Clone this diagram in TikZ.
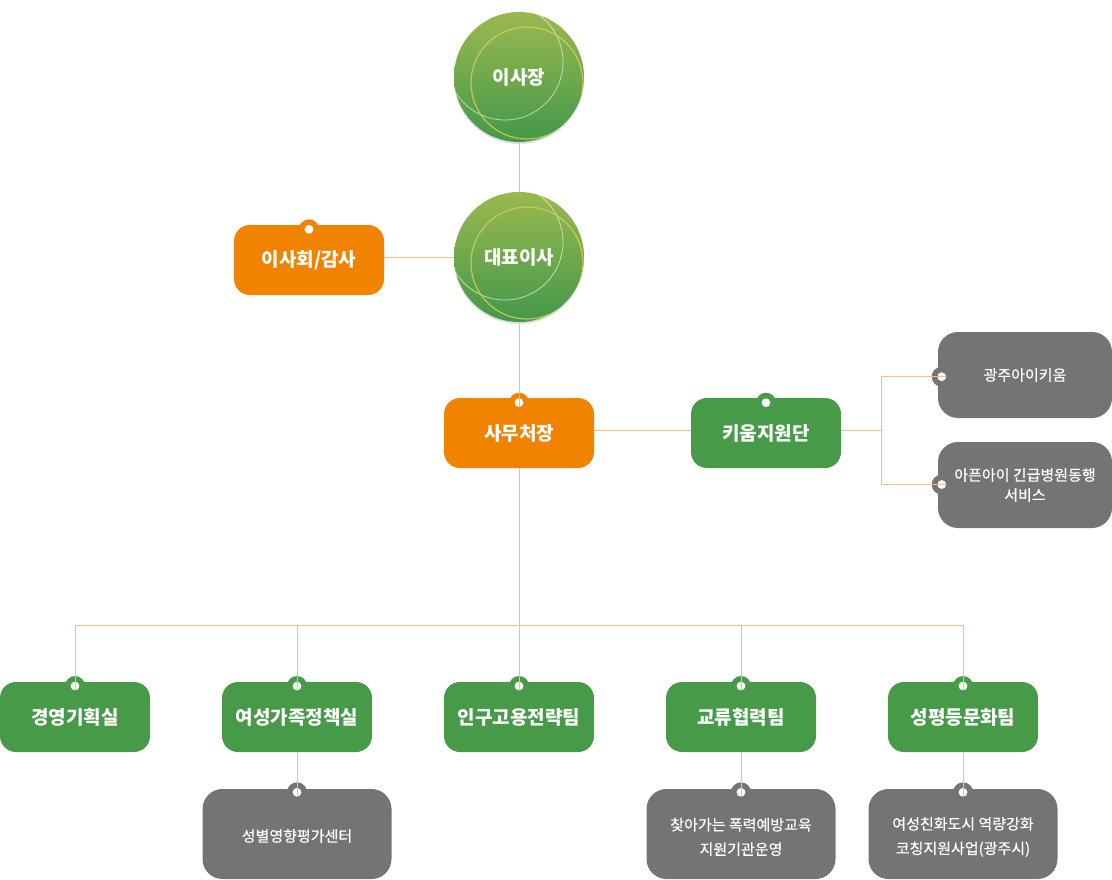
\documentclass[tikz,border=0pt]{standalone}
\usepackage{fontspec}
\newfontfamily\kr{Noto Sans CJK KR}
\newfontfamily\krm{Noto Sans CJK KR}[FakeBold=0.5]
\usetikzlibrary{shadows}
\definecolor{corange}{HTML}{F28300}
\definecolor{cgreen}{HTML}{469A48}
\definecolor{cgray}{HTML}{747474}
\definecolor{cline}{HTML}{F8BE7C}
\definecolor{ctop}{HTML}{9AB94F}
\definecolor{cbot}{HTML}{43984A}
\definecolor{cyel}{HTML}{D9CB5E}
\begin{document}
\begin{tikzpicture}[x=1pt,y=-1pt,
  box/.style={rectangle, rounded corners=16pt, minimum width=150pt, minimum height=70pt, inner sep=0pt, text=white, font=\kr\bfseries\fontsize{19}{22}\selectfont},
  obox/.style={box, fill=corange},
  gbox/.style={box, fill=cgreen},
  sbox/.style={rectangle, rounded corners=20pt, fill=cgray, text=white, inner sep=0pt, minimum width=189pt, minimum height=90pt, align=center, font=\krm\fontsize{15}{24.5}\selectfont},
  rbox/.style={sbox, minimum width=174pt, minimum height=86pt, font=\krm\fontsize{15}{20}\selectfont},
  stext/.style={text=white, inner sep=0pt, align=center, font=\krm\fontsize{15}{24.5}\selectfont},
  ball/.style={circle, minimum size=130pt, inner sep=0pt, top color=ctop, bottom color=cbot, draw=none,
     drop shadow={shadow xshift=0pt, shadow yshift=-2pt, opacity=.25}},
  balltext/.style={text=white, font=\kr\bfseries\fontsize{19}{22}\selectfont},
  conn/.style={draw=cline, line width=1pt},
  deco1/.style={draw=white, draw opacity=.6, line width=.8pt},
  deco2/.style={draw=cyel, draw opacity=.85, line width=1.2pt}
]
\useasboundingbox (0,0) rectangle (1112,880);

% circles
\node[ball] (chair) at (519,77) {};
\begin{scope}
  \clip (519,77) circle (65pt);
  \draw[deco1] (505,62) circle (58pt);
  \draw[deco2] (527,83) circle (56pt);
\end{scope}
\node[balltext] (chairT) at (chair.center) {이사장};

\node[ball] (ceo) at (519,257) {};
\begin{scope}
  \clip (519,257) circle (65pt);
  \draw[deco1] (505,242) circle (58pt);
  \draw[deco2] (527,263) circle (56pt);
\end{scope}
\node[balltext] (ceoT) at (ceo.center) {대표이사};

% boxes
\node[obox] (board) at (309,260) {이사회/감사};
\node[obox] (sec) at (519,433) {사무처장};
\node[gbox] (kium) at (766,433) {키움지원단};
\node[rbox] (g1) at (1025,375) {광주아이키움};
\node[rbox] (g2) at (1025,485) {아픈아이 긴급병원동행\\서비스};

\node[gbox] (d1) at (75,717) {경영기획실};
\node[gbox] (d2) at (297,717) {여성가족정책실};
\node[gbox] (d3) at (519,717) {인구고용전략팀};
\node[gbox] (d4) at (741,717) {교류협력팀};
\node[gbox] (d5) at (963,717) {성평등문화팀};

\node[sbox] (s2) at (297,834) {};
\node[sbox] (s4) at (741,834) {};
\node[sbox] (s5) at (963,834) {};
\node[stext] (s2T) at (297,836) {성별영향평가센터};
\node[stext] (s4T) at (741,837) {찾아가는 폭력예방교육\\지원기관운영};
\node[stext] (s5T) at (963,837) {여성친화도시 역량강화\\코칭지원사업(광주시)};

% tab coordinates
\coordinate (tBoard) at (309,229.3);
\coordinate (tSec) at (519,402.7);
\coordinate (tKium) at (766,402.7);
\coordinate (tG1) at (941.7,376.7);
\coordinate (tG2) at (941.7,484.5);
\coordinate (tD1) at (75,686);
\coordinate (tD2) at (297,686);
\coordinate (tD3) at (519,686);
\coordinate (tD4) at (741,686);
\coordinate (tD5) at (963,686);
\coordinate (tS2) at (297,792.3);
\coordinate (tS4) at (741,792.3);
\coordinate (tS5) at (963,792.3);

% tab bumps and holes
\foreach \t/\c in {tBoard/corange, tSec/corange, tKium/cgreen, tG1/cgray, tG2/cgray,
                   tD1/cgreen, tD2/cgreen, tD3/cgreen, tD4/cgreen, tD5/cgreen,
                   tS2/cgray, tS4/cgray, tS5/cgray}{
  \fill[\c] (\t) circle (10pt);
  \fill[white] (\t) circle (4.4pt);
}

% connectors
\draw[conn] (chair.south) -- (ceo.north);
\draw[conn] (ceo.west) -- (ceo.west -| board.east);
\draw[conn] (ceo.south) -- ([yshift=-4.4pt]tSec);
\draw[conn] ([yshift=3pt]sec.east) -- ([yshift=3pt]kium.west);
\coordinate (kj) at (881,430);
\draw[conn] ([yshift=3pt]kium.east) -- (kj);
\draw[conn] (kj) -- (kj |- tG1) -- ([xshift=4.4pt]tG1);
\draw[conn] (kj) -- (kj |- tG2) -- ([xshift=4.4pt]tG2);

\coordinate (trunk) at (519,625);
\draw[conn] (sec.south) -- ([yshift=-4.4pt]tD3);
\draw[conn] (tD1 |- trunk) -- (tD5 |- trunk);
\foreach \t in {tD1,tD2,tD4,tD5}{
  \draw[conn] (\t |- trunk) -- ([yshift=-4.4pt]\t);
}
\draw[conn] (d2.south) -- ([yshift=-4.4pt]tS2);
\draw[conn] (d4.south) -- ([yshift=-4.4pt]tS4);
\draw[conn] (d5.south) -- ([yshift=-4.4pt]tS5);
\end{tikzpicture}
\end{document}
